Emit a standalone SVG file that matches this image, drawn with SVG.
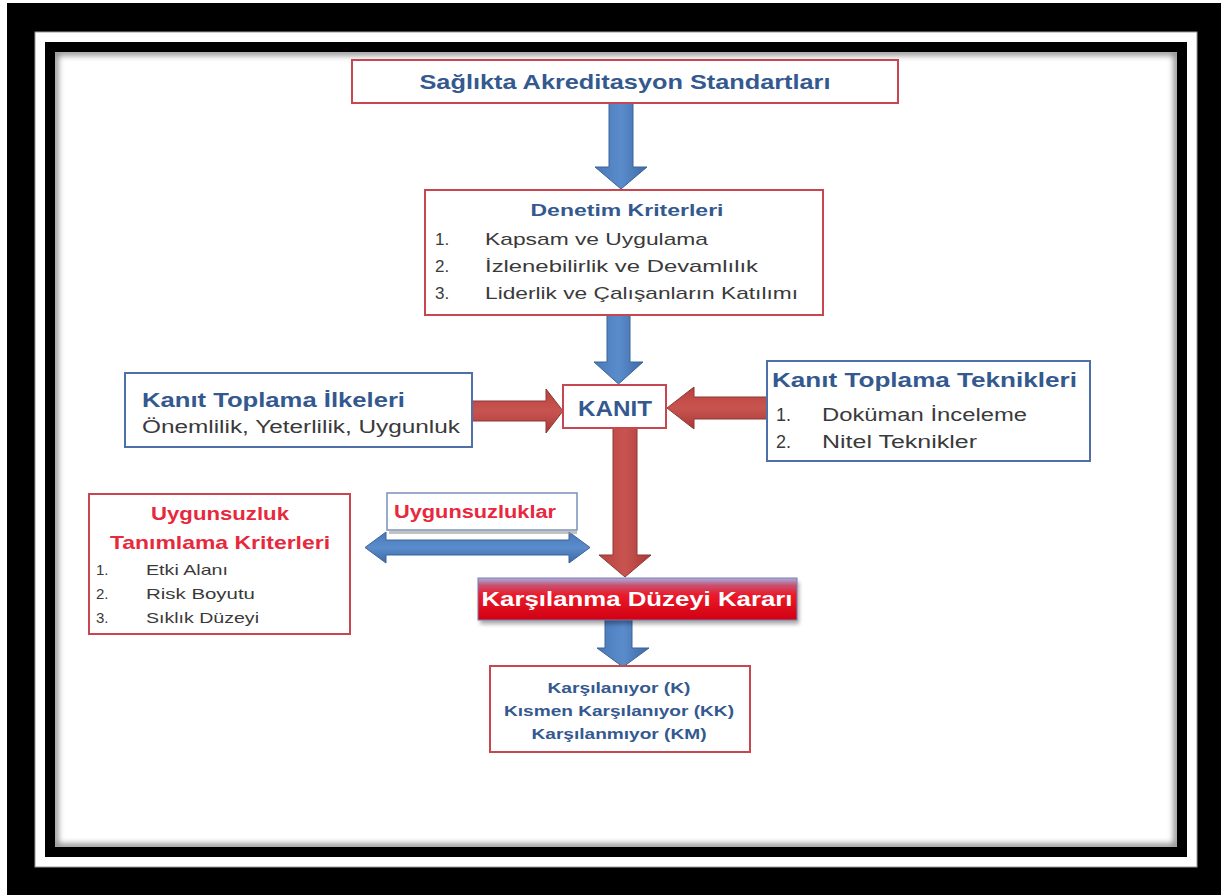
<svg xmlns="http://www.w3.org/2000/svg" width="1221" height="895" viewBox="0 0 1221 895">
<style>
.t{font-family:"Liberation Sans",Arial,sans-serif}
.b{font-weight:bold}
.blue{fill:#34598f}
.dark{fill:#3a3a3a}
.red{fill:#e8283c}
.rbox{fill:#fff;stroke:#c8464f;stroke-width:2}
.bbox{fill:#fff;stroke:#4f6fa8;stroke-width:2}
.barrow{fill:url(#gBlue);stroke:#3b6496;stroke-width:1}
.rarrow{fill:url(#gRed);stroke:#8c3836;stroke-width:1}
</style>
<defs>
<linearGradient id="gBlue" x1="0" y1="0" x2="1" y2="0">
<stop offset="0" stop-color="#4a78b8"/><stop offset="0.5" stop-color="#5a8ccc"/><stop offset="1" stop-color="#3f6aa6"/>
</linearGradient>
<linearGradient id="gBlueV" x1="0" y1="0" x2="0" y2="1">
<stop offset="0" stop-color="#4a78b8"/><stop offset="0.5" stop-color="#5a8ccc"/><stop offset="1" stop-color="#3f6aa6"/>
</linearGradient>
<linearGradient id="gRed" x1="0" y1="0" x2="1" y2="0">
<stop offset="0" stop-color="#b8413e"/><stop offset="0.5" stop-color="#c85450"/><stop offset="1" stop-color="#a83a37"/>
</linearGradient>
<linearGradient id="gRedV" x1="0" y1="0" x2="0" y2="1">
<stop offset="0" stop-color="#b8413e"/><stop offset="0.5" stop-color="#c85450"/><stop offset="1" stop-color="#a83a37"/>
</linearGradient>
<linearGradient id="gKarar" x1="0" y1="0" x2="0" y2="1">
<stop offset="0" stop-color="#a8b0e0"/><stop offset="0.18" stop-color="#c85070"/><stop offset="0.4" stop-color="#ec1a2a"/><stop offset="1" stop-color="#d00012"/>
</linearGradient>
<filter id="blur" x="-5%" y="-5%" width="110%" height="110%"><feGaussianBlur stdDeviation="3"/></filter>
<filter id="sh" x="-10%" y="-20%" width="120%" height="160%"><feGaussianBlur stdDeviation="2"/></filter>
<clipPath id="content"><rect x="55" y="52" width="1122" height="795"/></clipPath>
</defs>

<g id="frame">
<rect x="0" y="0" width="1221" height="895" fill="#fff"/>
<rect x="7" y="3" width="1214" height="892" fill="#000"/>
<rect x="35" y="32" width="1162" height="835" fill="#fff" stroke="#999" stroke-width="1"/>
<rect x="45" y="42" width="1142" height="815" fill="#000"/>
<rect x="55" y="52" width="1122" height="795" fill="#fff"/>
<g clip-path="url(#content)">
<rect x="55" y="52" width="1122" height="795" fill="none" stroke="#000" stroke-width="6" opacity="0.5" filter="url(#blur)"/>
</g>
</g>

<g id="connectors">
<polygon class="barrow" points="609,103 633,103 633,167 647,167 621,189 595,167 609,167"/>
<polygon class="barrow" points="607,315 630,315 630,362 643,362 618.5,384 594,362 607,362"/>
<polygon class="rarrow" points="613,428 637,428 637,555 651,555 625,577 599,555 613,555"/>
<polygon class="rarrow" fill="url(#gRedV)" style="fill:url(#gRedV)" points="472,401 546,401 546,389 563,411 546,433 546,421 472,421"/>
<polygon class="rarrow" style="fill:url(#gRedV)" points="767,397 694,397 694,387 667,408 694,429 694,419 767,419"/>
<polygon class="barrow" style="fill:url(#gBlueV)" points="365,547.5 386,532 386,540 569,540 569,532 590,547.5 569,563 569,555 386,555 386,563"/>
<polygon class="barrow" points="605,620 632,620 632,648 649,648 623,667 597,648 605,648"/>
</g>

<g id="n-standartlar">
<rect class="rbox" x="352" y="60" width="546" height="43"/>
<text class="t b blue" x="625" y="89" font-size="21" text-anchor="middle" textLength="411" lengthAdjust="spacingAndGlyphs">Sağlıkta Akreditasyon Standartları</text>
</g>

<g id="n-denetim">
<rect class="rbox" x="425" y="190" width="398" height="125"/>
<text class="t b blue" x="627" y="216" font-size="17" text-anchor="middle" textLength="193" lengthAdjust="spacingAndGlyphs">Denetim Kriterleri</text>
<g class="t dark" font-size="17">
<text x="435" y="245">1.</text><text x="485" y="245" textLength="223" lengthAdjust="spacingAndGlyphs">Kapsam ve Uygulama</text>
<text x="435" y="272">2.</text><text x="485" y="272" textLength="273" lengthAdjust="spacingAndGlyphs">İzlenebilirlik ve Devamlılık</text>
<text x="435" y="299">3.</text><text x="485" y="299" textLength="313" lengthAdjust="spacingAndGlyphs">Liderlik ve Çalışanların Katılımı</text>
</g>
</g>

<g id="n-kanit">
<rect class="rbox" x="563" y="385" width="103" height="43"/>
<text class="t b blue" x="615" y="416" font-size="22" text-anchor="middle" textLength="74" lengthAdjust="spacingAndGlyphs">KANIT</text>
</g>

<g id="n-ilkeler">
<rect class="bbox" x="125" y="373" width="347" height="74"/>
<text class="t b blue" x="142" y="407" font-size="21" textLength="263" lengthAdjust="spacingAndGlyphs">Kanıt Toplama İlkeleri</text>
<text class="t dark" x="142" y="433" font-size="18" textLength="318" lengthAdjust="spacingAndGlyphs">Önemlilik, Yeterlilik, Uygunluk</text>
</g>

<g id="n-teknikler">
<rect class="bbox" x="767" y="361" width="323" height="100"/>
<text class="t b blue" x="772" y="387" font-size="21" textLength="305" lengthAdjust="spacingAndGlyphs">Kanıt Toplama Teknikleri</text>
<g class="t dark" font-size="18">
<text x="776" y="421">1.</text><text x="822" y="421" textLength="205" lengthAdjust="spacingAndGlyphs">Doküman İnceleme</text>
<text x="776" y="448">2.</text><text x="822" y="448" textLength="155" lengthAdjust="spacingAndGlyphs">Nitel Teknikler</text>
</g>
</g>

<g id="n-uygunsuzluk-kriter">
<rect class="rbox" x="89" y="494" width="261" height="140"/>
<text class="t b red" x="220" y="520" font-size="19" text-anchor="middle" textLength="138" lengthAdjust="spacingAndGlyphs">Uygunsuzluk</text>
<text class="t b red" x="220" y="549" font-size="19" text-anchor="middle" textLength="220" lengthAdjust="spacingAndGlyphs">Tanımlama Kriterleri</text>
<g class="t dark" font-size="15">
<text x="96" y="575">1.</text><text x="146" y="575" textLength="82" lengthAdjust="spacingAndGlyphs">Etki Alanı</text>
<text x="96" y="599">2.</text><text x="146" y="599" textLength="109" lengthAdjust="spacingAndGlyphs">Risk Boyutu</text>
<text x="96" y="623">3.</text><text x="146" y="623" textLength="113" lengthAdjust="spacingAndGlyphs">Sıklık Düzeyi</text>
</g>
</g>

<g id="n-uygunsuzluklar">
<rect x="389" y="531" width="188" height="3" fill="#999" opacity="0.6"/>
<rect class="bbox" x="387" y="493" width="190" height="37" style="stroke:#7a90b8;stroke-width:1.5"/>
<text class="t b red" x="394" y="518" font-size="18" textLength="162" lengthAdjust="spacingAndGlyphs">Uygunsuzluklar</text>
</g>

<g id="n-karar">
<rect x="480" y="582" width="319" height="42" fill="#000" opacity="0.35" filter="url(#sh)"/>
<rect x="478" y="578" width="319" height="42" fill="url(#gKarar)" stroke="#7a7fb8" stroke-width="1"/>
<text class="t b" fill="#fff" x="637" y="606" font-size="21" text-anchor="middle" textLength="311" lengthAdjust="spacingAndGlyphs">Karşılanma Düzeyi Kararı</text>
</g>

<g id="n-sonuc">
<rect class="rbox" x="490" y="666" width="260" height="86"/>
<g class="t b blue" font-size="15" text-anchor="middle">
<text x="619" y="693" textLength="143" lengthAdjust="spacingAndGlyphs">Karşılanıyor (K)</text>
<text x="619" y="716" textLength="230" lengthAdjust="spacingAndGlyphs">Kısmen Karşılanıyor (KK)</text>
<text x="619" y="739" textLength="175" lengthAdjust="spacingAndGlyphs">Karşılanmıyor (KM)</text>
</g>
</g>
</svg>
